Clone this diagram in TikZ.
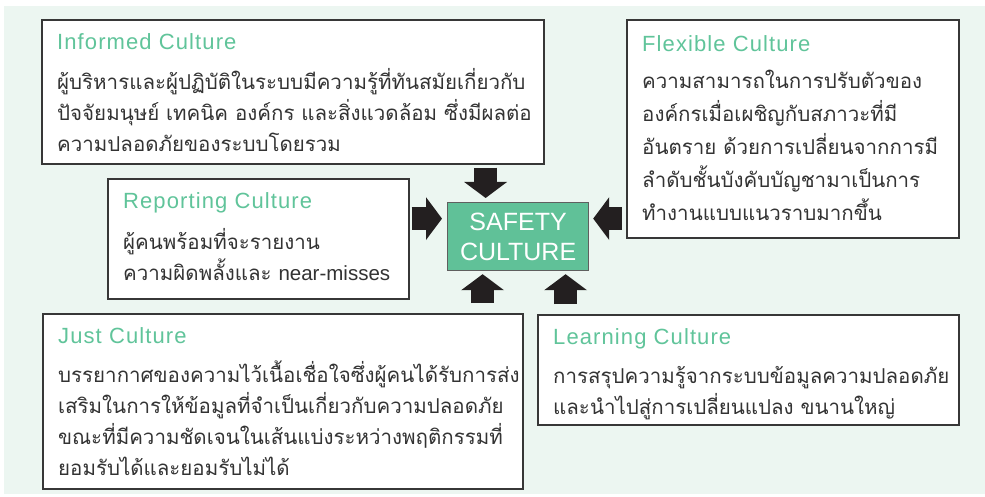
\documentclass[tikz,border=0pt]{standalone}
\usepackage{fontspec}
\setmainfont{Liberation Sans}
\newfontfamily\thaifont[Script=Thai]{Loma}
\newfontfamily\latinfont{Liberation Sans}
\newfontfamily\titlefont[LetterSpace=5]{Liberation Sans}
\usetikzlibrary{arrows.meta}

\definecolor{bgmint}{RGB}{236,246,241}
\definecolor{titlegreen}{RGB}{96,196,154}
\definecolor{safetygreen}{RGB}{96,193,152}
\definecolor{boxline}{RGB}{55,55,55}
\definecolor{bodytext}{RGB}{51,51,51}
\definecolor{arrowblack}{RGB}{35,31,32}

\newcommand{\bodylines}[1]{\begin{tabular}[t]{@{}l@{}}#1\end{tabular}}

\begin{document}
\begin{tikzpicture}[x=1pt,y=-1pt]
	\tikzstyle{box}=[draw=boxline,line width=1.6pt,fill=white,anchor=north west,inner sep=0pt]
	\tikzstyle{ctitle}=[anchor=base west,inner sep=0pt,text=titlegreen,font=\titlefont\fontsize{22}{26}\selectfont]
	\tikzstyle{cbody}=[anchor=base west,inner sep=0pt,text=bodytext,font=\thaifont\fontsize{20.5}{31}\selectfont]
	\tikzstyle{blockarrow}=[draw=arrowblack,line width=23pt,-{Triangle[width=42pt,length=16pt]}]

	\useasboundingbox (0,0) rectangle (985,497);
	\fill[bgmint] (4,6) rectangle (985,494);

	\foreach \name/\x/\y/\w/\h in {informed/41/19/502/144, flexible/626/19/332/218, reporting/107/178/301/120, just/42/313/480/175, learning/537/314/421/110}
	\node[box,minimum width=\w pt,minimum height=\h pt] (\name) at (\x,\y) {};

	\node[box,fill=safetygreen,draw=boxline!80,line width=1.2pt,minimum width=141pt,minimum height=68pt,align=center,text=white,font=\fontsize{25}{30}\selectfont] (safety) at (447,202) {SAFETY\\CULTURE};

	\foreach \name/\title/\dy in {informed/Informed Culture/31, flexible/Flexible Culture/33, reporting/Reporting Culture/31, just/Just Culture/30, learning/Learning Culture/30}
	\node[ctitle] (\name-title) at ([xshift=16pt,yshift=-\dy pt]\name.north west) {\title};

	\node[cbody] (informed-body) at ([yshift=-40pt]informed-title.base west) {\bodylines{ผู้บริหารและผู้ปฏิบัติในระบบมีความรู้ที่ทันสมัยเกี่ยวกับ\\ปัจจัยมนุษย์ เทคนิค องค์กร และสิ่งแวดล้อม ซึ่งมีผลต่อ\\ความปลอดภัยของระบบโดยรวม}};
	\node[cbody,font=\thaifont\fontsize{20.5}{33}\selectfont] (flexible-body) at ([yshift=-37pt]flexible-title.base west) {\bodylines{ความสามารถในการปรับตัวของ\\องค์กรเมื่อเผชิญกับสภาวะที่มี\\อันตราย ด้วยการเปลี่ยนจากการมี\\ลำดับชั้นบังคับบัญชามาเป็นการ\\ทำงานแบบแนวราบมากขึ้น}};
	\node[cbody] (reporting-body) at ([yshift=-40pt]reporting-title.base west) {\bodylines{ผู้คนพร้อมที่จะรายงาน\\ความผิดพลั้งและ {\latinfont near-misses}}};
	\node[cbody] (just-body) at ([yshift=-39pt]just-title.base west) {\bodylines{บรรยากาศของความไว้เนื้อเชื่อใจซึ่งผู้คนได้รับการส่ง\\เสริมในการให้ข้อมูลที่จำเป็นเกี่ยวกับความปลอดภัย\\ขณะที่มีความชัดเจนในเส้นแบ่งระหว่างพฤติกรรมที่\\ยอมรับได้และยอมรับไม่ได้}};
	\node[cbody] (learning-body) at ([yshift=-39pt]learning-title.base west) {\bodylines{การสรุปความรู้จากระบบข้อมูลความปลอดภัย\\และนำไปสู่การเปลี่ยนแปลง ขนานใหญ่}};

	% arrows into the centre
	\draw[blockarrow,shorten <=3pt,shorten >=4pt] ([xshift=-32.5pt]safety.north |- informed.south) -- ([xshift=-32.5pt]safety.north);
	\draw[blockarrow,shorten <=2pt,shorten >=5pt] ([yshift=18pt]safety.west -| reporting.east) -- ([yshift=18pt]safety.west);
	\draw[blockarrow,shorten <=4pt,shorten >=4pt] ([yshift=18pt]safety.east -| flexible.west) -- ([yshift=18pt]safety.east);
	\draw[blockarrow,shorten <=10pt,shorten >=3pt] ([xshift=-35.5pt]safety.south |- just.north) -- ([xshift=-35.5pt]safety.south);
	\draw[blockarrow,shorten <=10pt,shorten >=3pt] ([xshift=47.5pt]safety.south |- learning.north) -- ([xshift=47.5pt]safety.south);

\end{tikzpicture}
\end{document}
